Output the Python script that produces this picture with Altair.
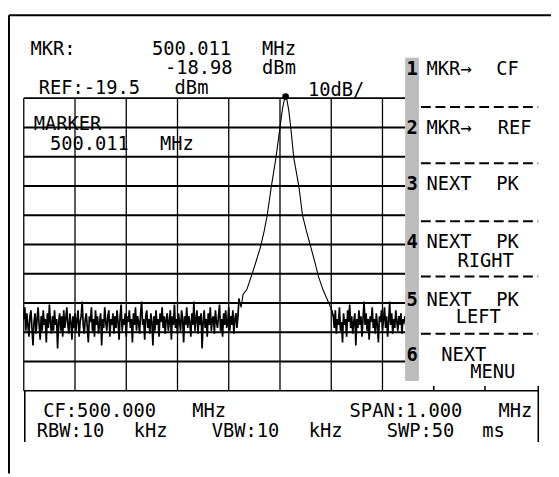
import re
import altair as alt
import pandas as pd

start_freq = 499.5        # MHz, left edge of graticule
stop_freq = 500.5         # MHz, right edge
ref_level = -19.5         # dBm, top line
db_per_div = 10
freq_per_div = 0.1
bin_step = 0.002          # MHz between noise-floor samples
marker_freq = 500.011
marker_level = -18.98

left_floor_start = 499.500
left_floor = [-95, -91, -99, -93, -97, -101, -94, -92, -98, -104,
              -96, -93, -100, -95, -91, -97, -102, -94, -99, -92,
              -97, -95, -103, -93, -98, -90, -96, -100, -94, -99,
              -92, -97, -95, -105, -96, -93, -99, -94, -101, -92,
              -98, -95, -91, -97, -100, -93, -96, -102, -94, -98,
              -93, -99, -95, -92, -101, -96, -94, -89, -97, -100,
              -95, -93, -98, -103, -94, -96, -91, -99, -95, -101,
              -92, -97, -94, -100, -96, -93, -104, -95, -98, -91,
              -96, -99, -94, -92, -101, -95, -97, -93, -100, -94,
              -98, -92, -96, -102, -94, -90, -99, -95, -97, -93,
              -101, -94, -96, -92, -98, -95, -103, -93, -97, -91,
              -99, -94, -96, -100, -93, -89, -97, -95, -102, -94,
              -92, -98, -95, -100, -93, -96, -104, -94, -99, -92,
              -97, -95, -101, -93, -96, -91, -98, -94, -100, -95,
              -93, -99, -96, -92, -102, -94, -97, -90, -98, -95,
              -100, -93, -96, -99, -92, -95, -103, -94, -97, -91,
              -98, -94, -96, -101, -93, -97, -89, -99, -95, -92,
              -100, -94, -97, -93, -105, -96, -92, -98, -95, -101,
              -93, -97, -91, -99, -95, -94, -100, -92, -96, -98,
              -94, -90, -99, -95, -101, -93, -97, -92, -98, -96,
              -91, -99, -94, -97, -92, -100, -95, -93, -98, -94]

skirt_freq = [499.920, 499.924, 499.928, 499.935, 499.944, 499.953, 499.962,
              499.969, 499.975, 499.983, 499.992, 500.000, 500.005, 500.009,
              500.011, 500.013, 500.017, 500.021, 500.027, 500.037, 500.044,
              500.052, 500.060, 500.068, 500.075, 500.084, 500.092, 500.100]
skirt_level = [-88, -91, -86.5, -85, -80.4, -75.5, -70.3,
               -65, -59.6, -49.8, -40.0, -29.5, -23, -19.6,
               -18.98, -19.6, -23.5, -29.5, -40.0, -49.8, -59.6,
               -65.2, -70.3, -75.5, -80.4, -85, -88.2, -91.5]

right_floor_start = 500.104
right_floor = [-94, -98, -92, -100, -95, -97, -91, -99, -96, -103,
               -93, -97, -95, -101, -92, -96, -90, -98, -94, -100,
               -96, -93, -104, -95, -98, -92, -97, -94, -101, -95,
               -89, -97, -93, -99, -95, -102, -94, -96, -91, -98,
               -95, -100, -93, -97, -103, -94, -96, -92, -99, -95,
               -91, -98, -94, -101, -96, -89, -97, -93, -100, -95,
               -98, -92, -96, -99, -94, -97, -93, -100, -95, -96, -94]

header_lines = ["MKR:    500.011 MHz", "         -18.98 dBm", "REF:-19.5 dBm"]
scale_label = "10dB/"
marker_lines = ["MARKER", " 500.011 MHz"]
menu_keys = ["1", "2", "3", "4", "5", "6"]
menu_labels = [["MKR→ CF"], ["MKR→ REF"], ["NEXT PK"], ["NEXT PK", "  RIGHT"],
               ["NEXT PK", "  LEFT"], [" NEXT", "   MENU"]]
footer_lines = ["CF:500.000 MHz       SPAN:1.000 MHz",
                "RBW:10 kHz  VBW:10 kHz  SWP:50 ms"]

# ---------------- layout ----------------
OFF = 8                       # page margin
W, H = 551, 469
FONT = "DejaVu Sans Mono"
FS = 19
PITCH = 14.8
GX0, GX1 = 24, 544            # graticule left/right (page px)
GY0, GY1 = 96, 393            # graticule top/bottom (page px)
MENU_X = 411                  # menu panel starts here (page px)

px_per_mhz = (GX1 - GX0) / (stop_freq - start_freq)
px_per_db = (GY1 - GY0) / (10 * db_per_div)
bottom_level = ref_level - 10 * db_per_div
edge_freq = start_freq + (MENU_X - GX0) / px_per_mhz


def lvl(page_y):
    return ref_level - (page_y - GY0) / px_per_db


xs = alt.Scale(domain=[start_freq, stop_freq], range=[GX0 - OFF, GX1 - OFF], nice=False, zero=False)
ys = alt.Scale(domain=[bottom_level, ref_level], range=[GY1 - OFF, GY0 - OFF], nice=False, zero=False)

# trace: noise floor drawn a little heavier than the response skirts
left_pts = [(left_floor_start + i * bin_step, v) for i, v in enumerate(left_floor)]
right_pts = [(right_floor_start + i * bin_step, v) for i, v in enumerate(right_floor)]
skirt_pts = list(zip(skirt_freq, skirt_level))
segments = [
    ("floor_l", 1.7, left_pts + skirt_pts[:1]),
    ("skirt", 1.1, left_pts[-1:] + skirt_pts + right_pts[:1]),
    ("floor_r", 1.7, skirt_pts[-1:] + right_pts),
]
rows = []
for name, w, pts in segments:
    for i, (f, d) in enumerate(pts):
        rows.append(dict(seg=name, w=w, f=f, db=d, i=i))
trace_df = pd.DataFrame(rows)

trace = alt.Chart(trace_df).mark_line(color="black").encode(
    x=alt.X("f:Q", scale=xs, axis=None),
    y=alt.Y("db:Q", scale=ys, axis=None),
    detail="seg:N",
    strokeWidth=alt.StrokeWidth("w:Q", scale=None, legend=None),
    order="i:Q",
)

marker = alt.Chart(pd.DataFrame({"f": [marker_freq], "db": [marker_level]})).mark_point(
    filled=True, color="black", size=45, opacity=1
).encode(x=alt.X("f:Q", scale=xs, axis=None), y=alt.Y("db:Q", scale=ys, axis=None))

# graticule
h_levels = [ref_level - k * db_per_div for k in range(10)]
hgrid = alt.Chart(pd.DataFrame({"db": h_levels, "f1": start_freq, "f2": edge_freq})).mark_rule(
    color="black", strokeWidth=2
).encode(x=alt.X("f1:Q", scale=xs, axis=None), x2="f2:Q", y=alt.Y("db:Q", scale=ys, axis=None))

v_freqs = [start_freq + k * freq_per_div for k in range(10) if start_freq + k * freq_per_div < edge_freq - 0.01]
vgrid = alt.Chart(pd.DataFrame({"f": v_freqs, "d1": bottom_level, "d2": ref_level})).mark_rule(
    color="black", strokeWidth=1.3
).encode(x=alt.X("f:Q", scale=xs, axis=None), y=alt.Y("d1:Q", scale=ys, axis=None), y2="d2:Q")

# footer box (continuation of graticule)
box_bottom = lvl(445)
tick_top = lvl(388)
box_segments = pd.DataFrame({
    "f1": [start_freq, start_freq + 0.002, stop_freq + 0.004, stop_freq - 2 * freq_per_div, stop_freq - freq_per_div],
    "f2": [stop_freq + 0.004, start_freq + 0.002, stop_freq + 0.004, stop_freq - 2 * freq_per_div, stop_freq - freq_per_div],
    "d1": [bottom_level, bottom_level, tick_top, tick_top, tick_top],
    "d2": [bottom_level, box_bottom, box_bottom, bottom_level, bottom_level],
})
box = alt.Chart(box_segments).mark_rule(color="black", strokeWidth=1.6).encode(
    x=alt.X("f1:Q", scale=xs, axis=None), x2="f2:Q",
    y=alt.Y("d1:Q", scale=ys, axis=None), y2="d2:Q",
)

# ---------- screen furniture in pixel space ----------
def P(field):
    return alt.X(field, scale=None, axis=None)


def PY(field):
    return alt.Y(field, scale=None, axis=None)


frame = alt.Chart(pd.DataFrame({
    "x1": [1, 1], "x2": [W, 1], "y1": [4, 4], "y2": [4, H],
})).mark_rule(color="black", strokeWidth=2).encode(
    x=P("x1:Q"), x2="x2:Q", y=PY("y1:Q"), y2="y2:Q")

shade = alt.Chart(pd.DataFrame({"x1": [MENU_X - OFF], "x2": [425 - OFF], "y1": [55 - OFF], "y2": [383 - OFF]})).mark_rect(
    color="#bdbdbd").encode(x=P("x1:Q"), x2="x2:Q", y=PY("y1:Q"), y2="y2:Q")

sep_y = [105, 162, 221, 277, 335]
seps = alt.Chart(pd.DataFrame({"y": [v - OFF for v in sep_y], "x1": 427 - OFF, "x2": 546 - OFF})).mark_rule(
    color="black", strokeWidth=2, strokeDash=[10, 4.8]).encode(x=P("x1:Q"), x2="x2:Q", y=PY("y:Q"))


def words(line, x0, baseline):
    out = []
    for m in re.finditer(r"\S+", line):
        w = m.group()
        out.append(dict(px=x0 + (m.start() + len(w) / 2) * PITCH - OFF, py=baseline - OFF, text=w))
    return out


texts = []
for line, b in zip(header_lines, [52, 72, 92]):
    texts += words(line, 24, b)
texts.append(dict(px=341 - OFF, py=94 - OFF, text=scale_label))
for line, b in zip(marker_lines, [128, 149]):
    texts += words(line, 24, b)
menu_baselines = [[73], [132], [189], [248, 267], [307, 324], [363, 380]]
for labels, bases in zip(menu_labels, menu_baselines):
    for line, b in zip(labels, bases):
        texts += words(line, 426, b)
for line, b in zip(footer_lines, [420, 440]):
    texts += words(line, 27, b)

text_layer = alt.Chart(pd.DataFrame(texts)).mark_text(
    font=FONT, fontSize=FS, color="black", align="center", baseline="alphabetic"
).encode(x=P("px:Q"), y=PY("py:Q"), text="text:N")

keys_df = pd.DataFrame({"text": menu_keys, "px": 418 - OFF, "py": [b[0] - OFF for b in menu_baselines]})
keys_layer = alt.Chart(keys_df).mark_text(
    font=FONT, fontSize=FS, fontWeight="bold", color="black", align="center", baseline="alphabetic"
).encode(x=P("px:Q"), y=PY("py:Q"), text="text:N")

chart = alt.layer(
    frame, hgrid, vgrid, box, trace, marker, shade, seps, text_layer, keys_layer
).resolve_scale(x="independent", y="independent").properties(
    width=W, height=H, padding=0, autosize=alt.AutoSizeParams(type="none"), background="white"
).configure_view(stroke=None)

chart.save("out.html", embed_options={"renderer": "svg", "actions": False})
